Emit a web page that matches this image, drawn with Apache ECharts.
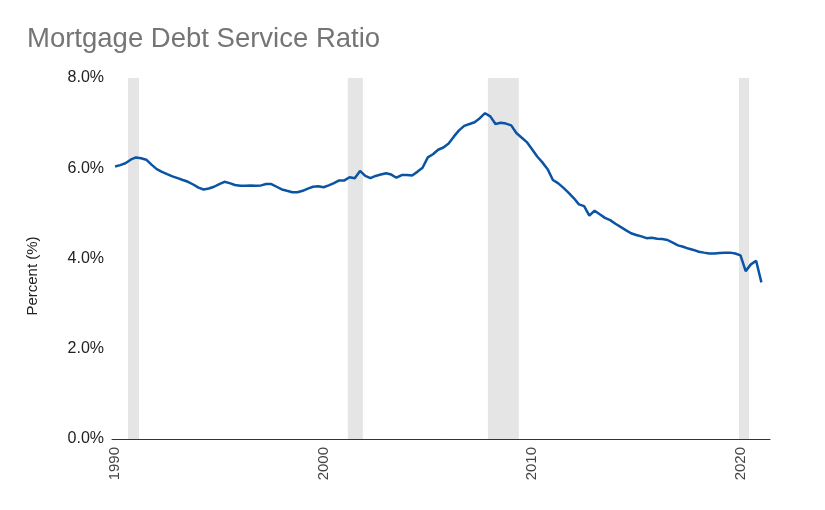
<!DOCTYPE html>
<html>
<head>
<meta charset="utf-8">
<script src="https://cdn.jsdelivr.net/npm/echarts@6/dist/echarts.min.js"></script>
<style>
  html, body { margin: 0; padding: 0; background: #fff; }
  #chart { width: 825px; height: 510px; }
</style>
</head>
<body>
<div id="chart"></div>
<script>
// quarterly mortgage debt service ratio, 1990 Q1 .. 2021 Q1 (percent)
var firstYear = 1990;
var ratio = [
  6.04, 6.07, 6.11, 6.19,
  6.24, 6.22, 6.19, 6.08,
  5.98, 5.92, 5.87, 5.82,
  5.78, 5.74, 5.70, 5.64,
  5.57, 5.53, 5.55, 5.59,
  5.65, 5.70, 5.67, 5.63,
  5.61, 5.61, 5.62, 5.61,
  5.62, 5.65, 5.65, 5.59,
  5.53, 5.50, 5.47, 5.47,
  5.50, 5.55, 5.59, 5.60,
  5.58, 5.62, 5.67, 5.73,
  5.73, 5.80, 5.78, 5.94,
  5.83, 5.78, 5.83, 5.86,
  5.89, 5.86, 5.79, 5.85,
  5.85, 5.84, 5.92, 6.01,
  6.24, 6.31, 6.41, 6.46,
  6.55, 6.70, 6.84, 6.94,
  6.98, 7.02, 7.11, 7.22,
  7.15, 6.98, 7.01, 6.99,
  6.95, 6.78, 6.68, 6.58,
  6.42, 6.26, 6.13, 5.98,
  5.74, 5.67, 5.57, 5.46,
  5.34, 5.20, 5.16, 4.95,
  5.06, 4.98, 4.90, 4.85,
  4.77, 4.70, 4.63, 4.56,
  4.52, 4.49, 4.45, 4.46,
  4.44, 4.43, 4.41, 4.35,
  4.29, 4.26, 4.22, 4.19,
  4.15, 4.13, 4.11, 4.11,
  4.12, 4.13, 4.13, 4.11,
  4.07, 3.72, 3.87, 3.95,
  3.47
];

// recession shading (start, end) as [year, month, day]
var recessions = [
  [[1990, 8, 15], [1991, 2, 25]],
  [[2001, 3, 1], [2001, 11, 20]],
  [[2007, 11, 20], [2009, 5, 15]],
  [[2019, 12, 5], [2020, 5, 30]]
];

var labelYears = [1990, 2000, 2010, 2020];
var yTicks = [0, 2, 4, 6, 8];

function ts(y, m, d) { return new Date(y, m - 1, d).getTime(); }

var quarters = ratio.map(function(v, i) {
  return ts(firstYear + Math.floor(i / 4), (i % 4) * 3 + 1, 1);
});

var chart = echarts.init(document.getElementById('chart'));
chart.setOption({
  animation: false,
  title: {
    text: 'Mortgage Debt Service Ratio',
    left: 22,
    top: 20,
    textStyle: {
      fontFamily: 'Liberation Sans, Arial, sans-serif',
      fontSize: 27.5,
      fontWeight: 'normal',
      color: '#757575'
    }
  },
  graphic: [{
    type: 'text',
    x: 33,
    y: 276,
    rotation: Math.PI / 2,
    style: {
      text: 'Percent (%)',
      fontFamily: 'Liberation Sans, Arial, sans-serif',
      fontSize: 15,
      fill: '#222',
      align: 'center',
      verticalAlign: 'middle'
    }
  }],
  grid: {
    left: 112,
    right: 55,
    top: 78,
    bottom: 71,
    containLabel: false
  },
  xAxis: {
    type: 'value',
    min: ts(1989, 11, 8),
    max: ts(2021, 6, 1),
    axisLine: { lineStyle: { color: '#333', width: 1 } },
    axisTick: { show: false },
    splitLine: { show: false },
    axisLabel: {
      rotate: 90,
      margin: 8,
      fontFamily: 'Liberation Sans, Arial, sans-serif',
      fontSize: 15,
      color: '#444',
      customValues: labelYears.map(function(y) { return ts(y, 1, 1); }),
      formatter: function(val) { return '' + new Date(val).getFullYear(); }
    }
  },
  yAxis: {
    type: 'value',
    min: 0,
    max: 8,
    interval: 2,
    axisLine: { show: false },
    axisTick: { show: false },
    splitLine: { show: false },
    axisLabel: {
      margin: 8,
      fontFamily: 'Liberation Sans, Arial, sans-serif',
      fontSize: 16,
      color: '#222',
      formatter: function(v) { return v.toFixed(1) + '%'; }
    }
  },
  series: [{
    name: 'Mortgage Debt Service Ratio',
    type: 'line',
    data: quarters.map(function(d, i) { return [d, ratio[i]]; }),
    showSymbol: false,
    symbol: 'none',
    lineStyle: { color: '#0b54a4', width: 2.5 },
    z: 3,
    markArea: {
      silent: true,
      itemStyle: { color: '#e5e5e5' },
      data: recessions.map(function(r) {
        return [
          { xAxis: ts(r[0][0], r[0][1], r[0][2]), yAxis: 8 },
          { xAxis: ts(r[1][0], r[1][1], r[1][2]), yAxis: 0 }
        ];
      })
    }
  }]
});
</script>
</body>
</html>
